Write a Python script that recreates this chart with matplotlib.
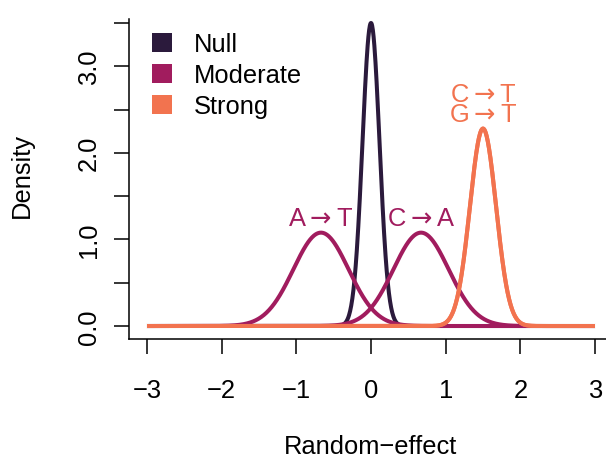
import numpy as np
import matplotlib
matplotlib.use("Agg")
import matplotlib.pyplot as plt
from matplotlib.patches import Patch

plt.rcParams['font.family'] = ['Liberation Sans', 'DejaVu Sans']
plt.rcParams['mathtext.fontset'] = 'dejavusans'

# ---- data ----
groups = ["Null", "Moderate", "Strong"]
group_colors = ["#2b1a3c", "#a11c5e", "#f2734f"]
curve_labels = ["", r"A$\rightarrow$T", r"C$\rightarrow$A", r"G$\rightarrow$T", r"C$\rightarrow$T"]
curve_groups = [0, 1, 1, 2, 2]
curve_means = [0.0, -0.67, 0.67, 1.5, 1.5]
curve_sds = [0.114, 0.37, 0.37, 0.175, 0.175]
label_offsets = [0.0, 0.17, 0.17, 0.17, 0.40]
x_ticks = [-3, -2, -1, 0, 1, 2, 3]
y_ticks = [0.0, 0.5, 1.0, 1.5, 2.0, 2.5, 3.0, 3.5]
y_ticklabels = ["0.0", "", "1.0", "", "2.0", "", "3.0", ""]

FS = 18.4
W, H = 606, 464
fig = plt.figure(figsize=(W / 100, H / 100), dpi=100)
ax = fig.add_axes([129 / W, (H - 340) / H, 484 / W, 320 / H])

x = np.linspace(-3, 3, 1201)
for lab, g, m, s, off in zip(curve_labels, curve_groups, curve_means, curve_sds, label_offsets):
    dens = np.exp(-0.5 * ((x - m) / s) ** 2) / (s * np.sqrt(2 * np.pi))
    ax.plot(x, dens, color=group_colors[g], lw=2.9, solid_capstyle='butt')
    if lab:
        peak = 1 / (s * np.sqrt(2 * np.pi))
        ax.text(m, peak + off, lab, color=group_colors[g], fontsize=FS,
                ha='center', va='center')

ax.set_xlim(-3.241, 3.241)
ax.set_ylim(-0.150, 3.545)
ax.spines['top'].set_visible(False)
ax.spines['right'].set_visible(False)
for sp in ['left', 'bottom']:
    ax.spines[sp].set_linewidth(1.1)

ax.set_xticks(x_ticks)
ax.set_xticklabels([f"{t}".replace('-', '\u2212') for t in x_ticks])
ax.set_yticks(y_ticks)
ax.set_yticklabels(y_ticklabels)
ax.tick_params(axis='both', labelsize=FS, length=11, width=1.1)
ax.tick_params(axis='x', pad=17)
ax.tick_params(axis='y', pad=9)
for t in ax.get_yticklabels():
    t.set_rotation(90)
    t.set_va('center')

ax.set_xlabel("Random\u2212effect", fontsize=FS)
ax.xaxis.set_label_coords(0.5, -0.334)
ax.xaxis.label.set_va('center')
ax.set_ylabel("Density", fontsize=FS)
ax.yaxis.set_label_coords((22 - 129) / 484, (340 - 176) / 320)
ax.yaxis.label.set_va('center')

handles = [Patch(facecolor=c, edgecolor='none') for c in group_colors]
ax.legend(handles, groups, loc='upper left', bbox_to_anchor=(0.027, 0.99),
          frameon=False, fontsize=FS, handlelength=0.78, handleheight=0.78,
          handletextpad=0.85, labelspacing=0.27, borderaxespad=0.0)

fig.savefig("out.png", dpi=100)
